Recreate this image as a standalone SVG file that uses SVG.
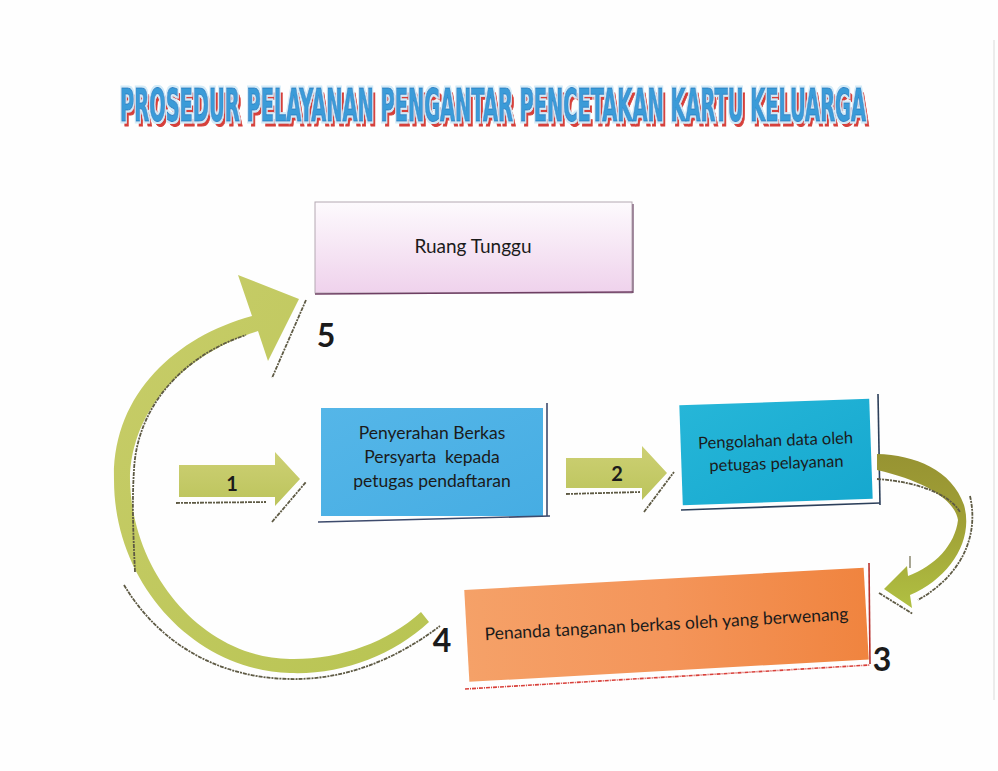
<svg xmlns="http://www.w3.org/2000/svg" width="998" height="771" viewBox="0 0 998 771">
  <defs>
    <linearGradient id="gPink" x1="0" y1="0" x2="0" y2="1">
      <stop offset="0" stop-color="#fdfafd"/>
      <stop offset="1" stop-color="#efd2ec"/>
    </linearGradient>
    <linearGradient id="gBlue" x1="0" y1="0" x2="1" y2="1">
      <stop offset="0" stop-color="#55b6e8"/>
      <stop offset="1" stop-color="#46ade3"/>
    </linearGradient>
    <linearGradient id="gCyan" x1="0" y1="0" x2="1" y2="1">
      <stop offset="0" stop-color="#26b6d8"/>
      <stop offset="1" stop-color="#16a8cf"/>
    </linearGradient>
    <linearGradient id="gOrange" x1="0" y1="0" x2="1" y2="0">
      <stop offset="0" stop-color="#f5a168"/>
      <stop offset="0.5" stop-color="#f4955a"/>
      <stop offset="1" stop-color="#f0843f"/>
    </linearGradient>
    <linearGradient id="gGreen" x1="0" y1="0" x2="0" y2="1">
      <stop offset="0" stop-color="#cdd074"/>
      <stop offset="1" stop-color="#bcc45c"/>
    </linearGradient>
    <linearGradient id="gArc" x1="0" y1="0" x2="1" y2="1">
      <stop offset="0" stop-color="#c8cd6a"/>
      <stop offset="1" stop-color="#b8c452"/>
    </linearGradient>
    <linearGradient id="gOlive" x1="0" y1="0" x2="0" y2="1">
      <stop offset="0" stop-color="#979332"/>
      <stop offset="0.45" stop-color="#a0a036"/>
      <stop offset="1" stop-color="#b0c042"/>
    </linearGradient>
    <filter id="fTitle" x="-5%" y="-30%" width="110%" height="170%">
      <feOffset in="SourceAlpha" dx="6" dy="5" result="off"/>
      <feFlood flood-color="#d6403a"/>
      <feComposite in2="off" operator="in" result="red"/>
      <feMorphology in="SourceAlpha" operator="dilate" radius="3 1.5" result="dil"/>
      <feFlood flood-color="#d2ebf8"/>
      <feComposite in2="dil" operator="in" result="halo"/>
      <feMerge>
        <feMergeNode in="red"/>
        <feMergeNode in="halo"/>
        <feMergeNode in="SourceGraphic"/>
      </feMerge>
    </filter>
    <style>
      .title { font-family: "DejaVu Sans Condensed", "Liberation Sans", sans-serif; font-weight: bold; font-size: 44px; fill: #3a9bd8; stroke: #2784c6; stroke-width: 1; }
      .lbl { font-family: Lato, "Liberation Sans", sans-serif; font-size: 17.5px; fill: #1b1b1b; text-anchor: middle; }
      .num { font-family: Lato, "Liberation Sans", sans-serif; font-weight: bold; fill: #1b1b1b; text-anchor: middle; }
      .shadow { fill: none; stroke: #5e5a44; stroke-width: 1.8; stroke-dasharray: 4 1 2 1; }
      .edge { fill: none; stroke-width: 1.6; }
    </style>
  </defs>

  <rect x="0" y="0" width="998" height="771" fill="#fefefe"/>
  <line x1="994" y1="40" x2="994" y2="700" stroke="#e6e6e6" stroke-width="1.5"/>

  <!-- Title -->
  <g id="title" transform="translate(120 121) scale(0.486 1)" filter="url(#fTitle)">
    <text class="title" x="0" y="0" textLength="1535" lengthAdjust="spacingAndGlyphs">PROSEDUR PELAYANAN PENGANTAR PENCETAKAN KARTU KELUARGA</text>
  </g>

  <!-- Node: Ruang Tunggu -->
  <g id="node-ruang-tunggu">
    <rect x="315" y="202" width="317" height="91" fill="url(#gPink)" stroke="#b3a8b1" stroke-width="1"/>
    <line x1="633" y1="204" x2="633" y2="293" class="edge" stroke="#8c7088"/>
    <line x1="315" y1="294" x2="633" y2="292" class="edge" stroke="#6e3f63" stroke-width="2"/>
    <text class="lbl" x="473" y="253" style="font-size:19px">Ruang Tunggu</text>
  </g>

  <!-- Node 1 -->
  <g id="node-penyerahan">
    <rect x="321" y="408" width="222" height="108" fill="url(#gBlue)"/>
    <line x1="547" y1="403" x2="547" y2="516" class="edge" stroke="#3d4a6c"/>
    <line x1="318" y1="522" x2="550" y2="516" class="edge" stroke="#3d4a6c" stroke-width="2"/>
    <text class="lbl" x="432" y="439">Penyerahan Berkas</text>
    <text class="lbl" x="432" y="463" xml:space="preserve">Persyarta  kepada</text>
    <text class="lbl" x="432" y="487">petugas pendaftaran</text>
  </g>

  <!-- Node 2 -->
  <g id="node-pengolahan">
    <g transform="rotate(-2 776 452)">
      <rect x="681" y="402" width="190" height="100" fill="url(#gCyan)"/>
      <text class="lbl" x="776" y="446" style="font-size:16.5px">Pengolahan data oleh</text>
      <text class="lbl" x="776" y="469" style="font-size:16.5px">petugas pelayanan</text>
    </g>
    <line x1="878" y1="394" x2="880" y2="505" class="edge" stroke="#2c3f5a"/>
    <line x1="681" y1="510" x2="880" y2="503" class="edge" stroke="#2c3f5a" stroke-width="2"/>
  </g>

  <!-- Node 3 -->
  <g id="node-penanda">
    <g transform="rotate(-3.2 666.5 624.75)">
      <rect x="466.5" y="578.75" width="400" height="92" fill="url(#gOrange)"/>
      <text class="lbl" x="666.5" y="630">Penanda tanganan berkas oleh yang berwenang</text>
    </g>
    <line x1="869" y1="563" x2="870" y2="664" class="edge" stroke="#b8322e"/>
    <line x1="465" y1="689" x2="870" y2="665" class="edge" stroke="#d8403a" stroke-width="2" stroke-dasharray="4 1 1 1"/>
  </g>

  <!-- Connectors -->
  <g id="connectors">
    <!-- Arrow 1 -->
    <polygon points="179,465 275,465 275,452 300,479 275,506 275,497 179,497" fill="url(#gGreen)"/>
    <line x1="176" y1="503" x2="266" y2="502" class="shadow"/>
    <line x1="272" y1="522" x2="306" y2="482" class="shadow"/>
    <!-- Arrow 2 -->
    <polygon points="566,458 642,458 642,446 667,473 642,500 642,488 566,488" fill="url(#gGreen)"/>
    <line x1="566" y1="494" x2="640" y2="492" class="shadow"/>
    <line x1="644" y1="512" x2="674" y2="472" class="shadow"/>
    <!-- Arrow 3 (curved, from node 2 down to node 3) -->
    <path d="M 877 454 C 915 455 952 470 964 505 C 974 540 950 578 910 595 L 912 608 L 884 589 L 907 566 L 908 576 C 935 566 955 545 958 520 C 955 500 925 481 877 470 Z" fill="url(#gOlive)"/>
    <path d="M 877 479 C 920 482 950 495 960 512" class="shadow"/>
    <path d="M 970 496 C 978 530 967 572 918 600" class="shadow"/>
    <path d="M 879 593 L 913 614" class="shadow"/>
    <line x1="910" y1="556" x2="910" y2="568" stroke="#6e6a4a" stroke-width="1.2"/>
    <!-- Arrow 4 -> 5 (big arc back to Ruang Tunggu) -->
    <path d="M 429 622 C 392 656 341 675 290 673 C 196 671 114 585 114 480 C 112 395 175 337 252 316 L 238 275 L 299 299 L 268 361 L 258 331 C 190 352 131 405 130 480 C 132 575 204 658 290 659 C 338 660 387 643 421 612 Z" fill="url(#gArc)"/>
    <path d="M 124 585 C 160 645 220 678 290 679 C 345 680 395 660 440 626" class="shadow"/>
    <path d="M 135 572 C 133 530 132 500 134 470 C 137 405 185 355 246 335" class="shadow"/>
    <line x1="306" y1="300" x2="272" y2="378" class="shadow"/>
    <!-- Step numbers -->
    <text class="num" x="232" y="491" style="font-size:20px">1</text>
    <text class="num" x="617" y="481" style="font-size:20px">2</text>
    <text class="num" x="882" y="671" style="font-size:32px">3</text>
    <text class="num" x="442" y="652" style="font-size:32px">4</text>
    <text class="num" x="326" y="347" style="font-size:32px">5</text>
  </g>
</svg>
